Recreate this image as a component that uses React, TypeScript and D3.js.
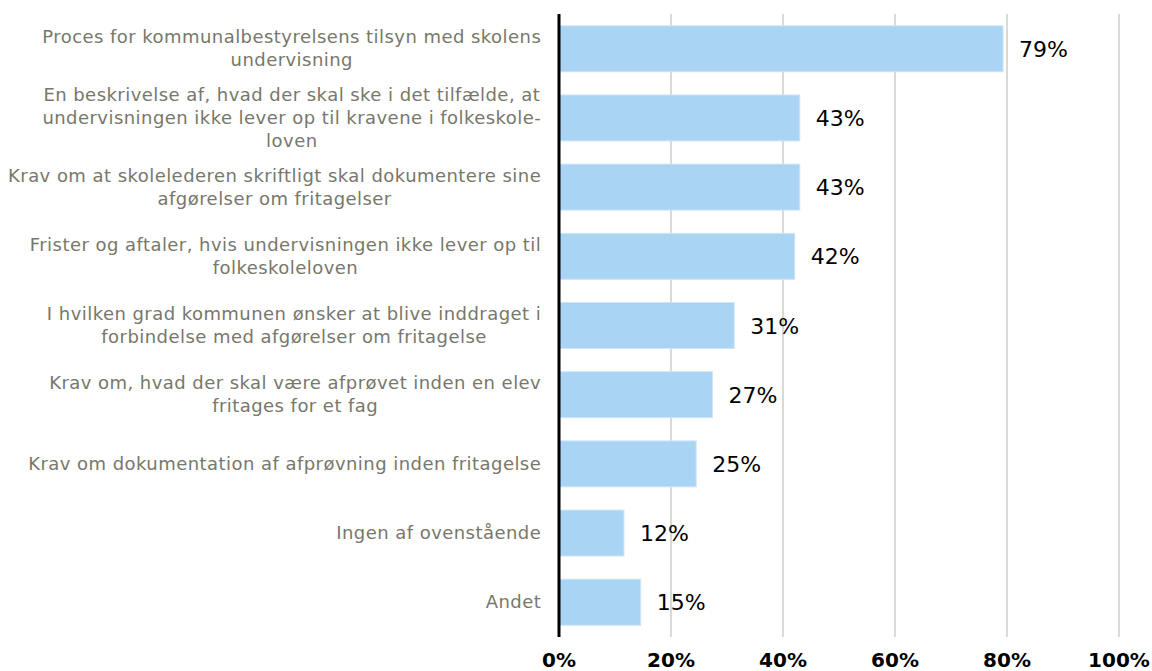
import React from "react";
import * as d3 from "d3";

const categories: string[][] = [
  ["Proces for kommunalbestyrelsens tilsyn med skolens", "undervisning"],
  ["En beskrivelse af, hvad der skal ske i det tilfælde, at", "undervisningen ikke lever op til kravene i folkeskole-", "loven"],
  ["Krav om at skolelederen skriftligt skal dokumentere sine", "afgørelser om fritagelser"],
  ["Frister og aftaler, hvis undervisningen ikke lever op til", "folkeskoleloven"],
  ["I hvilken grad kommunen ønsker at blive inddraget i", "forbindelse med afgørelser om fritagelse"],
  ["Krav om, hvad der skal være afprøvet inden en elev", "fritages for et fag"],
  ["Krav om dokumentation af afprøvning inden fritagelse"],
  ["Ingen af ovenstående"],
  ["Andet"],
];
const values: number[] = [79.3, 43.0, 43.0, 42.1, 31.3, 27.4, 24.5, 11.6, 14.6];
const valueLabels: string[] = ["79%", "43%", "43%", "42%", "31%", "27%", "25%", "12%", "15%"];
const ticks: number[] = [0, 20, 40, 60, 80, 100];

const W = 1152;
const H = 671;
const x0 = 559;
const x1 = 1119;
const yTop = 14;
const yBot = 637;
const labelRight = 541;
const font = "'DejaVu Sans', Verdana, sans-serif";
const catSize = 18;
const catSpacing = 0.45;

function measure(text: string): number {
  const c = document.createElement("canvas").getContext("2d")!;
  c.font = `${catSize}px ${font}`;
  return c.measureText(text).width + catSpacing * text.length;
}

export default function App() {
  const x = d3.scaleLinear().domain([0, 100]).range([x0, x1]);
  const y = d3
    .scaleBand<number>()
    .domain(d3.range(categories.length))
    .range([yTop, yBot])
    .paddingInner(0.335)
    .paddingOuter(0.17);
  const lh = 23;
  return (
    <svg
      width={W}
      height={H}
      style={{ position: "absolute", left: 0, top: 0, background: "#fff" }}
      fontFamily={font}
    >
      {ticks.slice(1).map((t) => (
        <line key={t} x1={x(t)} x2={x(t)} y1={yTop} y2={yBot} stroke="#b5b5a6" strokeWidth={1} />
      ))}
      {values.map((v, i) => (
        <rect
          key={i}
          x={x(0)}
          y={y(i)!}
          width={x(v) - x(0)}
          height={y.bandwidth()}
          fill="#a9d4f4"
          stroke="#cfe6f9"
          strokeWidth={1}
        />
      ))}
      <line x1={x(0)} x2={x(0)} y1={yTop} y2={yBot} stroke="#000" strokeWidth={3} />
      {values.map((v, i) => (
        <text
          key={i}
          x={x(v) + 16}
          y={y(i)! + y.bandwidth() / 2 + 2}
          dominantBaseline="middle"
          fontSize={22}
          fill="#000"
        >
          {valueLabels[i]}
        </text>
      ))}
      {categories.map((lines, i) => {
        const blockW = Math.max(...lines.map((l) => measure(l)));
        const cx = labelRight - blockW / 2;
        const cy = y(i)! + y.bandwidth() / 2 + 1;
        const start = cy - ((lines.length - 1) * lh) / 2;
        return (
          <g key={i}>
            {lines.map((l, j) => (
              <text
                key={j}
                x={cx + catSpacing / 2}
                y={start + j * lh}
                textAnchor="middle"
                dominantBaseline="middle"
                fontSize={catSize}
                letterSpacing={catSpacing}
                fill="#77776a"
              >
                {l}
              </text>
            ))}
          </g>
        );
      })}
      {ticks.map((t) => (
        <text
          key={t}
          x={x(t)}
          y={661}
          textAnchor="middle"
          dominantBaseline="middle"
          fontSize={20}
          fontWeight="bold"
          fill="#000"
        >
          {t + "%"}
        </text>
      ))}
    </svg>
  );
}
